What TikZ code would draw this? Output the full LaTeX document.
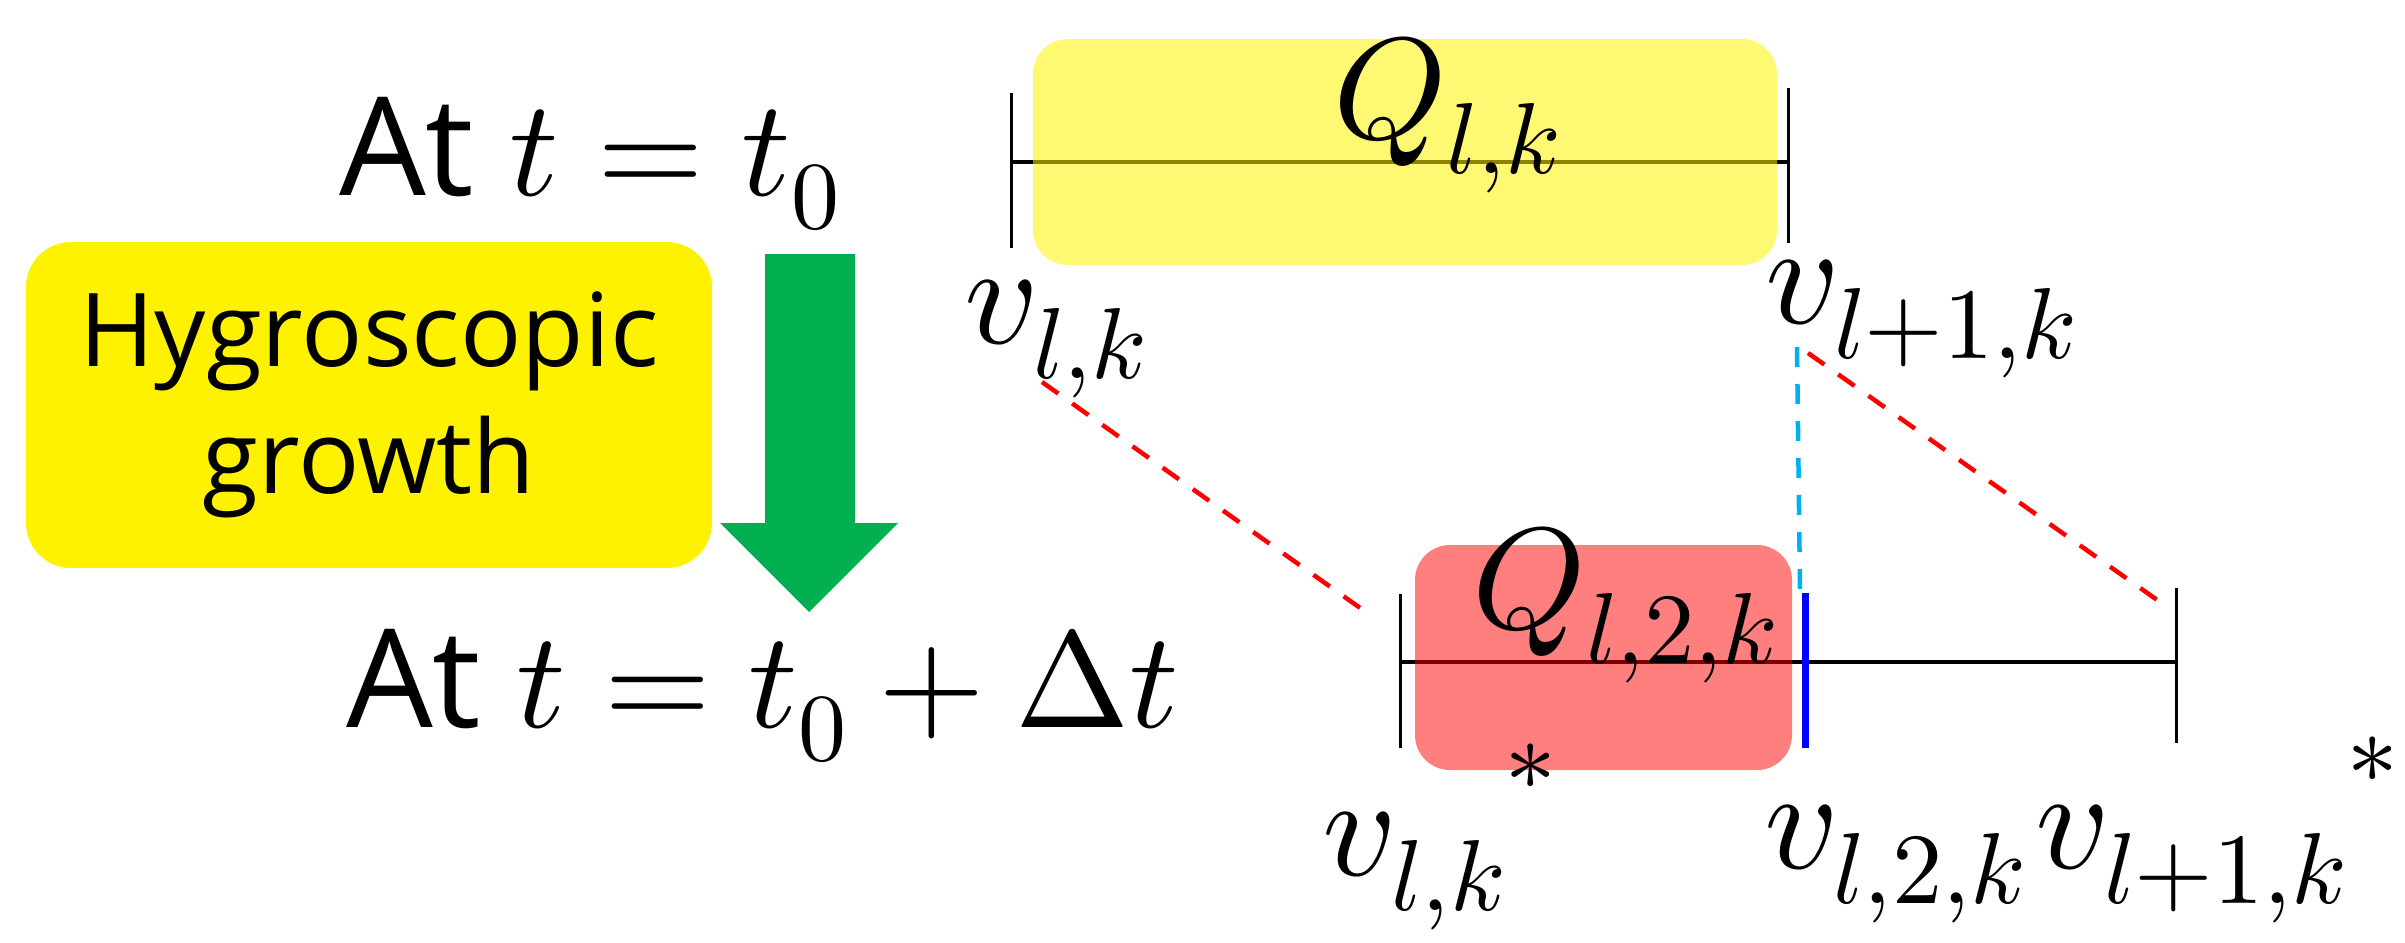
\documentclass[tikz,border=0pt]{standalone}
\usepackage{fontspec}
\usepackage{unicode-math}
\setmainfont{Open Sans}
\usepackage{tikz}

\definecolor{arrowgreen}{RGB}{0,176,80}
\definecolor{skyblue}{RGB}{0,176,240}
\newcommand{\hstar}{\raisebox{0.22em}{$\scriptstyle *$}}

\begin{document}
\begin{tikzpicture}[x=0.1mm, y=-0.1mm,
  every node/.style={inner sep=0pt, outer sep=0pt},
  mlabel/.style={anchor=base west, font=\fontsize{41}{49}\selectfont},
  bigtext/.style={anchor=base west, font=\fontsize{39}{47}\selectfont},
  tick/.style={line width=0.3mm},
  bar/.style={line width=0.4mm},
  link/.style={line width=0.45mm, dash pattern=on 2mm off 1.7mm}]
\useasboundingbox (0,0) rectangle (2405,943);

% time labels and growth step
\node[bigtext] (tstart) at (339,195) {At $t=t_0$};
\node[bigtext] (tend) at (346,727) {At $t=t_0+\Delta t$};
\node[fill=yellow, rounded corners=4.5mm, minimum width=68.6mm, minimum height=32.6mm,
  align=center, font=\fontsize{29}{36}\selectfont] (hyg) at (369,405) {Hygroscopic\\growth};
\fill[arrowgreen] (765,254) -- (855,254) -- (855,523) -- (898,523) -- (809,612)
  -- (720,523) -- (765,523) -- cycle;

% bin at t0
\coordinate (a0) at (1011,162);
\coordinate (a1) at (1788,162);
\draw[bar] (a0) -- (a1);
\draw[tick] (a0) ++(0,-69) -- ++(0,155);
\draw[tick] (a1) ++(0,-74) -- ++(0,155);
\fill[yellow, opacity=0.55, rounded corners=3.5mm] (1033,39) rectangle (1777,265);
\node[mlabel] (qlk) at (1333,138) {$Q_{l,k}$};
\node[mlabel] (vlk) at (964,343) {$v_{l,k}$};
\node[mlabel] (vlonek) at (1765,323) {$v_{l+1,k}$};

% bin after growth
\coordinate (b0) at (1400,662);
\coordinate (b1) at (2176,662);
\coordinate (bm) at (1805,662);
\draw[bar] (b0) -- (b1);
\draw[tick] (b0) ++(0,-68) -- ++(0,154);
\draw[tick] (b1) ++(0,-74) -- ++(0,155);
\fill[red, opacity=0.5, rounded corners=3.5mm] (1415,545) rectangle (1792,770);
\draw[blue, line width=0.7mm] (bm) ++(0,-69) -- ++(0,155);
\node[mlabel] (qltwok) at (1472,628) {$Q_{l,2,k}$};
\node[mlabel] (vlkstar) at (1322,875) {${v_{l,k}}^{\hstar}$};
\node[mlabel] (vltwok) at (1764,868) {$v_{l,2,k}$};
\node[mlabel] (vlonekstar) at (2035,868) {${v_{l+1,k}}^{\hstar}$};

% mapping of the edges
\coordinate (s0) at (1042,382);
\coordinate (e0) at (1370,615);
\coordinate (s1) at (1808,353);
\coordinate (e1) at (2160,602);
\coordinate (s2) at (1797,347);
\coordinate (e2) at (1800,590);
\draw[link, red] (s0) -- (e0);
\draw[link, red] (s1) -- (e1);
\draw[link, skyblue] (s2) -- (e2);
\end{tikzpicture}
\end{document}
